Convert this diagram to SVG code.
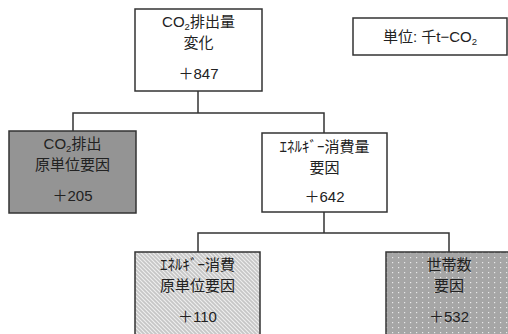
<svg xmlns="http://www.w3.org/2000/svg" width="508" height="334" viewBox="0 0 508 334">
<defs>
<pattern id="hatch" width="4" height="4" patternUnits="userSpaceOnUse">
<rect width="4" height="4" fill="#c6c6c6"/>
<path d="M-1,3 L1,5 M0,0 L4,4 M3,-1 L5,1" stroke="#efefef" stroke-width="1.1"/>
</pattern>
<pattern id="dots" width="6" height="5" patternUnits="userSpaceOnUse">
<rect width="6" height="5" fill="#a6a6a6"/>
<rect x="2" y="2" width="1.2" height="1.2" fill="#e8e8e8"/>
</pattern>
</defs>
<style>
rect.box{stroke:#333;stroke-width:1.5}
text{font-family:"Liberation Sans","Noto Sans CJK JP",sans-serif;font-size:15px;fill:#222;text-anchor:middle}
.sub{font-size:9.5px}
.conn{fill:none;stroke:#333;stroke-width:1.5}
</style>
<g id="connectors">
<path class="conn" d="M198,91 V113 H73 V131 M198,113 H324 V133"/>
<path class="conn" d="M324,212 V233 H198 V252 M324,233 H449 V252"/>
</g>
<g id="total">
<rect class="box" x="135" y="9" width="127" height="82" fill="#fff"/>
<text x="198.5" y="27">CO<tspan class="sub" baseline-shift="-3">2</tspan>排出量</text>
<text x="198.5" y="48">変化</text>
<text x="198.5" y="79">＋847</text>
</g>
<g id="unit">
<rect class="box" x="353" y="18" width="154" height="37" fill="#fff"/>
<text x="430" y="42">単位: 千t−CO<tspan class="sub" baseline-shift="-3">2</tspan></text>
</g>
<g id="co2-intensity">
<rect class="box" x="9" y="131" width="127" height="82" fill="#949494"/>
<text x="72.5" y="149">CO<tspan class="sub" baseline-shift="-3">2</tspan>排出</text>
<text x="72.5" y="170">原単位要因</text>
<text x="72.5" y="201">＋205</text>
</g>
<g id="energy">
<rect class="box" x="262" y="133" width="125" height="79" fill="#fff"/>
<text x="324.5" y="152">ｴﾈﾙｷﾞｰ消費量</text>
<text x="324.5" y="173">要因</text>
<text x="324.5" y="202">＋642</text>
</g>
<g id="energy-intensity">
<rect class="box" x="135" y="252" width="125" height="90" fill="url(#hatch)"/>
<text x="197.5" y="270">ｴﾈﾙｷﾞｰ消費</text>
<text x="197.5" y="291">原単位要因</text>
<text x="197.5" y="322">＋110</text>
</g>
<g id="households">
<rect class="box" x="386" y="252" width="126" height="90" fill="url(#dots)"/>
<text x="449" y="270">世帯数</text>
<text x="449" y="291">要因</text>
<text x="449" y="322">＋532</text>
</g>
</svg>
